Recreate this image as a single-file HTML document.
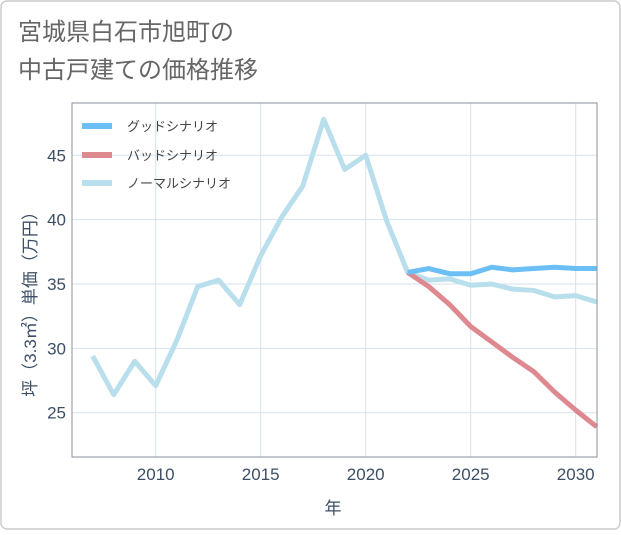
<!DOCTYPE html>
<html><head><meta charset="utf-8"><style>
body{margin:0;background:#fff;}
#c{position:relative;width:621px;height:530px;font-family:"Liberation Sans","Noto Sans CJK JP",sans-serif;}
</style></head><body>
<div id="c">
<svg id="s" width="621" height="530">
<rect x="1" y="1" width="619" height="528" rx="6" fill="#fff" stroke="#ccc" stroke-width="1.5"/>
<text x="18" y="40" font-size="24" fill="#666">宮城県白石市旭町の</text>
<text x="18" y="78" font-size="24" fill="#666">中古戸建ての価格推移</text>
<g id="grid"></g><g id="lines"></g><g id="axes"></g>
<text x="333" y="514" font-size="17" fill="#3d4f66" text-anchor="middle">年</text>
<text transform="translate(36,300) rotate(-90)" font-size="17" fill="#3d4f66" text-anchor="middle">坪（3.3㎡）単価（万円）</text>
<g>
<line x1="82" y1="126" x2="112" y2="126" stroke="#6bbff5" stroke-width="6"/>
<text x="127" y="131" font-size="13" fill="#444">グッドシナリオ</text>
<line x1="82" y1="155" x2="112" y2="155" stroke="#de8990" stroke-width="6"/>
<text x="127" y="160" font-size="13" fill="#444">バッドシナリオ</text>
<line x1="82" y1="183" x2="112" y2="183" stroke="#b9dfec" stroke-width="6"/>
<text x="127" y="188" font-size="13" fill="#444">ノーマルシナリオ</text>
</g>
</svg></div>
<script>
const normalYears=[2007,2008,2009,2010,2011,2012,2013,2014,2015,2016,2017,2018,2019,2020,2021,2022,2023,2024,2025,2026,2027,2028,2029,2030,2031];
const normalValues=[29.4,26.4,29.0,27.1,30.6,34.8,35.3,33.4,37.2,40.2,42.6,47.8,43.9,45.0,39.9,35.9,35.3,35.4,34.9,35.0,34.6,34.5,34.0,34.1,33.6];
const scenarioYears=[2022,2023,2024,2025,2026,2027,2028,2029,2030,2031];
const goodValues=[35.9,36.2,35.8,35.8,36.3,36.1,36.2,36.3,36.2,36.2];
const badValues=[35.9,34.8,33.4,31.7,30.5,29.3,28.2,26.6,25.2,23.9];
const xTicks=[2010,2015,2020,2025,2030];
const yTicks=[25,30,35,40,45];
const L=72,R=597,T=103,B=457;
const xs=y=>470.7+(y-2025)*21;
const ys=v=>412.7-(v-25)*12.87;
const NS='http://www.w3.org/2000/svg';
function mk(g,t,a){const e=document.createElementNS(NS,t);for(const k in a)e.setAttribute(k,a[k]);document.getElementById(g).appendChild(e);return e;}
xTicks.forEach(t=>{const e=mk('grid','line',{x1:xs(t),x2:xs(t),y1:T,y2:B,stroke:'#d5e3ee','stroke-width':1});


const l=mk('axes','text',{x:xs(t),y:B+23,'font-size':17,fill:'#3d4f66','text-anchor':'middle'});l.textContent=t;

});
yTicks.forEach(t=>{const e=mk('grid','line',{x1:L,x2:R,y1:ys(t),y2:ys(t),stroke:'#d5e3ee','stroke-width':1});


const l=mk('axes','text',{x:L-6,y:ys(t)+6,'font-size':17,fill:'#3d4f66','text-anchor':'end'});l.textContent=t;

});
const ax=mk('axes','path',{d:`M${L},${T}V${B}H${R}V${T}Z`,fill:'none',stroke:'#8a9099','stroke-width':1});


function line(yrs,vals,c,n){const p=mk('lines','polyline',{points:yrs.map((y,i)=>xs(y)+','+ys(vals[i])).join(' '),fill:'none',stroke:c,'stroke-width':5,'stroke-linejoin':'round'});

}
line(normalYears,normalValues,'#b9dfec','normal-scenario-line');
line(scenarioYears,badValues,'#de8990','bad-scenario-line');
line(scenarioYears,goodValues,'#6bbff5','good-scenario-line');
</script>
</body></html>
